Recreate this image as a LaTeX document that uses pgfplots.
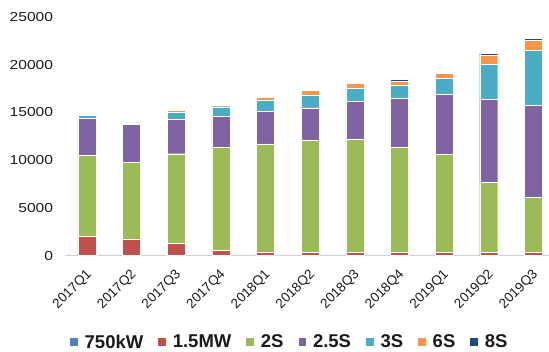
\documentclass[border=0pt]{standalone}
\usepackage{pgfplots}
\pgfplotsset{compat=1.18}
\usepackage{pgfplotstable}
\usepackage{fontspec}
\setmainfont[FakeStretch=1.2]{Liberation Sans}
\newfontfamily\rotfont{Liberation Sans}

\definecolor{c750}{HTML}{4F81BD}
\definecolor{c15}{HTML}{C0504D}
\definecolor{c2}{HTML}{9BBB59}
\definecolor{c25}{HTML}{8064A2}
\definecolor{c3}{HTML}{4BACC6}
\definecolor{c6}{HTML}{F79646}
\definecolor{c8}{HTML}{1F497D}
\definecolor{txt}{HTML}{1A1A1A}

% quarterly installed capacity by model
\pgfplotstableread{
q  kw750 mw15  s2     s25   s3    s6    s8
0  0     2050  8450   3920  280   0     0
1  0     1770  8050   3910  170   0     0
2  0     1320  9360   3640  730   210   0
3  0     590   10790  3180  1040  150   0
4  0     400   11320  3430  1180  250   0
5  0     330   11810  3360  1350  490   0
6  0     330   11910  3950  1350  520   0
7  0     330   11050  5120  1390  380   180
8  0     330   10280  6310  1670  480   140
9  0     330   7370   8730  3610  970   170
10 0     330   5810   9610  5750  1070  180
}\datatable

\begin{document}
\begin{tikzpicture}
\useasboundingbox (-64.6pt,-96.3pt) rectangle (484.4pt,255.7pt);
\begin{axis}[
  at={(0,0)}, anchor=south west,
  scale only axis, width=484.4pt, height=238.7pt,
  ybar stacked, bar width=18pt,
  xmin=-0.5, xmax=10.35, ymin=0, ymax=25000,
  axis x line*=bottom, axis y line*=left,
  x axis line style={draw=black!18, line width=1pt},
  y axis line style={draw=none},
  major tick length=0pt,
  ytick={0,5000,10000,15000,20000,25000},
  scaled y ticks=false,
  /pgf/number format/1000 sep={},
  /pgf/number format/assume math mode=true,
  yticklabel style={font=\fontsize{13}{13}\selectfont, text=txt, xshift=-8pt},
  xtick=data,
  xticklabels={2017Q1,2017Q2,2017Q3,2017Q4,2018Q1,2018Q2,2018Q3,2018Q4,2019Q1,2019Q2,2019Q3},
  xticklabel style={font=\rotfont\fontsize{13.5}{13.5}\selectfont, text=txt,
    xshift=5pt, yshift=-14.5pt, rotate=45, anchor=east},
  every axis plot/.append style={draw=white, line width=0.4pt},
  legend columns=-1,
  legend style={at={(axis description cs:0,0)}, anchor=west, xshift=5.4pt, yshift=-86.5pt,
    draw=none, fill=none, inner sep=0pt, font=\rotfont\bfseries\fontsize{18.5}{18.5}\selectfont, text=txt,
    nodes={inner sep=1pt},
    /tikz/every odd column/.append style={column sep=6pt},
    /tikz/every even column/.append style={column sep=14pt}},
  legend image code/.code={\fill[#1, draw=none] (0pt,-3.8pt) rectangle (7.5pt,3.7pt);},
]
\addplot[fill=c750] table[x=q, y=kw750] {\datatable};
\addplot[fill=c15]  table[x=q, y=mw15]  {\datatable};
\addplot[fill=c2]   table[x=q, y=s2]    {\datatable};
\addplot[fill=c25]  table[x=q, y=s25]   {\datatable};
\addplot[fill=c3]   table[x=q, y=s3]    {\datatable};
\addplot[fill=c6]   table[x=q, y=s6]    {\datatable};
\addplot[fill=c8]   table[x=q, y=s8]    {\datatable};
\legend{750kW,1.5MW,2S,2.5S,3S,6S,8S}
\end{axis}
\end{tikzpicture}
\end{document}
